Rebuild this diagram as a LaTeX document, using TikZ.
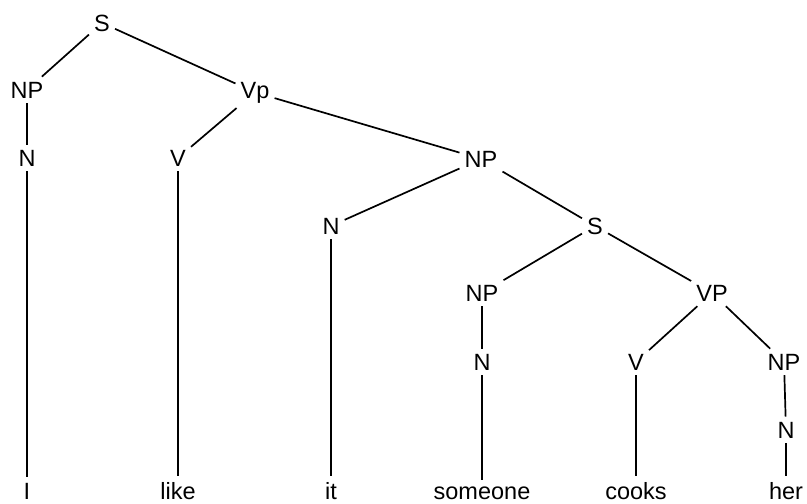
\documentclass[tikz,border=0pt]{standalone}
\usepackage{fontspec}
\setmainfont{Liberation Sans}
\usepackage{tikz}
\usetikzlibrary{positioning}
\tikzset{
  cat/.style={anchor=base, inner sep=5pt, font=\fontsize{23.5}{24}\selectfont},
  word/.style={cat, inner sep=6pt},
  branch/.style={line width=1.7pt, draw=black}
}

\begin{document}
\begin{tikzpicture}[x=1pt, y=-1pt]
\useasboundingbox (0,0) rectangle (807,504);
\node[cat] (s) at (102,31) {S};
\node[cat] (np) at (27,98) {NP};
\node[cat] (vp) at (255,98) {Vp};
\node[cat] (nI) at (27,166) {N};
\node[cat] (vLike) at (178,166) {V};
\node[cat] (npObj) at (481,167) {NP};
\node[cat] (nIt) at (331,234) {N};
\node[cat] (sRel) at (595,234) {S};
\node[cat] (npRel) at (482,301) {NP};
\node[cat] (vpRel) at (712,301) {VP};
\node[cat] (nSome) at (482,370) {N};
\node[cat] (vCook) at (636,370) {V};
\node[cat] (npHer) at (784,370) {NP};
\node[cat] (nHer) at (786,438) {N};
% the words
\node[word] (wI) at (27,499) {I};
\node[word] (wLike) at (178,499) {like};
\node[word] (wIt) at (331,499) {it};
\node[word] (wSome) at (482,499) {someone};
\node[word] (wCook) at (636,499) {cooks};
\node[word] (wHer) at (786,499) {her};
\draw[branch] (s) -- (np);
\draw[branch] (s) -- (vp);
\draw[branch] (np) -- (nI);
\draw[branch] (nI) -- (wI);
\draw[branch] (vp) -- (vLike);
\draw[branch] (vp) -- (npObj);
\draw[branch] (vLike) -- (wLike);
\draw[branch] (npObj) -- (nIt);
\draw[branch] (npObj) -- (sRel);
\draw[branch] (nIt) -- (wIt);
\draw[branch] (sRel) -- (npRel);
\draw[branch] (sRel) -- (vpRel);
\draw[branch] (npRel) -- (nSome);
\draw[branch] (nSome) -- (wSome);
\draw[branch] (vpRel) -- (vCook);
\draw[branch] (vpRel) -- (npHer);
\draw[branch] (vCook) -- (wCook);
\draw[branch] (npHer) -- (nHer);
\draw[branch] (nHer) -- (wHer);
\end{tikzpicture}
\end{document}
